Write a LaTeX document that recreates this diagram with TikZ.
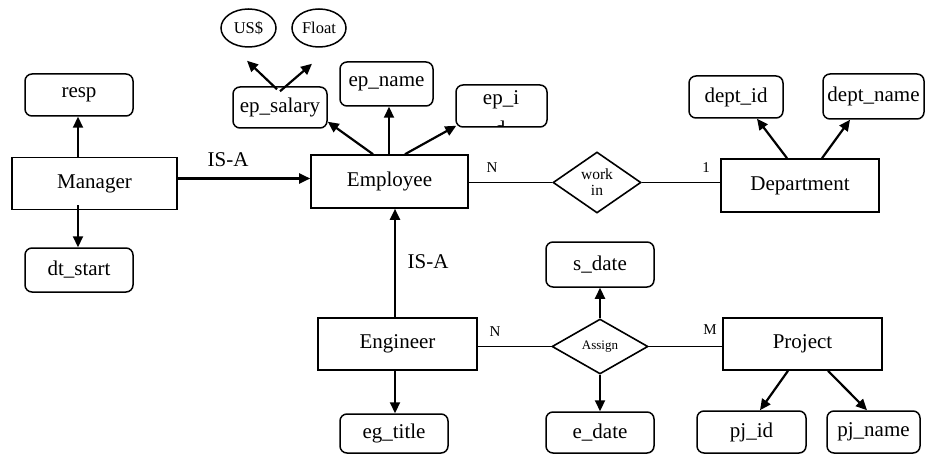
\documentclass[tikz,border=0pt]{standalone}
\usepackage{fontspec}
\setmainfont{Liberation Serif}
\usetikzlibrary{shapes.geometric,arrows.meta}
\tikzset{
  sz/.style 2 args={minimum width=#1pt, minimum height=#2pt},
  ent/.style={draw, line width=1.6pt, rectangle, inner sep=2pt, font=\fontsize{21}{24}\selectfont},
  attr/.style={draw, line width=1.5pt, rounded corners=7pt, inner sep=2pt, font=\fontsize{21}{24}\selectfont},
  val/.style={draw, ellipse, line width=1.5pt, inner sep=0pt, font=\fontsize{16.5}{18}\selectfont},
  rel/.style={draw, diamond, line width=1.6pt, inner sep=0pt},
  arr/.style={line width=2.2pt, -{Triangle[length=11pt,width=10pt]}},
  lnk/.style={line width=1.6pt},
  card/.style={font=\fontsize{15}{17}\selectfont, inner sep=0pt},
  isa/.style={font=\fontsize{21}{24}\selectfont, inner sep=0pt},
}
\begin{document}
\begin{tikzpicture}[x=1pt,y=-1pt]
\useasboundingbox (0,0) rectangle (925,454);
% entities
\node[ent, sz={165}{52}] (mgr) at (94.5,183.5) {Manager};
\node[ent, sz={157}{53}] (emp) at (389.5,181.5) {Employee};
\node[ent, sz={158}{53}] (dept) at (800,185.5) {Department};
\node[ent, sz={159}{52}] (eng) at (397.5,344) {Engineer};
\node[ent, sz={159}{52}] (proj) at (802.5,344) {Project};
% attributes
\node[attr, sz={108}{42}] (resp) at (79,95) {resp};
\node[attr, sz={108}{44}] (dts) at (79,270) {dt\_start};
\node[attr, sz={94}{41}] (sal) at (280,107.5) {ep\_salary};
\node[attr, sz={93}{44}] (ename) at (386.5,84) {ep\_name};
\node[attr, sz={91}{42}] (eid) at (501.5,106) {};
\begin{scope}
  \clip ([yshift=1pt]eid.south west) rectangle (eid.north east);
  \node[isa, anchor=base] (eidA) at (501,105) {ep\_i};
  \node[isa, anchor=base] (eidB) at (500,136) {d};
\end{scope}
\node[attr, sz={94}{42}] (did) at (736,97) {dept\_id};
\node[attr, sz={101}{45}] (dname) at (873.5,96.5) {dept\_name};
\node[attr, sz={108}{39}] (egt) at (394,433.5) {eg\_title};
\node[attr, sz={108}{45}] (sdate) at (600,264.5) {s\_date};
\node[attr, sz={108}{41}] (edate) at (600,432.5) {e\_date};
\node[attr, sz={109}{42}] (pid) at (751.5,432) {pj\_id};
\node[attr, sz={93}{42}] (pname) at (873.5,432) {pj\_name};
% values
\node[val, sz={55}{38}] (usd) at (248.5,28) {US\$};
\node[val, sz={54}{38}] (flt) at (319,28) {Float};
% relationships
\node[rel, sz={88}{61}, align=center, font=\fontsize{15.5}{16}\selectfont] (work) at (597,182.5) {work\\in};
\node[rel, sz={96}{55}, font=\fontsize{13}{15}\selectfont] (asg) at (600,346.5) {Assign};
% labels
\node[isa] (isa1) at (228,160) {IS-A};
\node[isa] (isa2) at (428,262) {IS-A};
\node[card] (c1) at (492,168) {N};
\node[card] (c2) at (706,168) {1};
\node[card] (c3) at (495,332) {N};
\node[card] (c4) at (710,330) {M};
% arrows
\draw[arr] ([xshift=-16.5pt]mgr.north) -- ([xshift=-16.5pt]mgr.north |- resp.south);
\draw[arr] ([xshift=-16.5pt,yshift=5pt]mgr.south) -- ([xshift=-16.5pt]mgr.south |- dts.north);
\draw[arr] ([yshift=5pt]mgr.east) -- ([yshift=5pt]mgr.east -| emp.west);
\draw[arr] ([xshift=-16.5pt]emp.north) -- ([yshift=7pt]sal.south east);
\draw[arr] ([xshift=-0.5pt]emp.north) -- ([xshift=-0.5pt]emp.north |- ename.south);
\draw[arr] ([xshift=15.5pt]emp.north) -- ([xshift=1pt,yshift=2pt]eid.south west);
\draw[arr] ([xshift=-3pt,yshift=-3pt]sal.north) -- ([xshift=-1.5pt,yshift=-13pt]usd.south);
\draw[arr] ([xshift=0pt,yshift=-5pt]sal.north) -- ([xshift=-7pt,yshift=-16pt]flt.south);
\draw[arr] ([xshift=-13pt]dept.north) -- ([xshift=21pt]did.south);
\draw[arr] ([xshift=22pt]dept.north) -- ([xshift=-23.5pt]dname.south);
\draw[arr] ([xshift=-2.5pt]eng.north) -- ([xshift=-2.5pt]eng.north |- emp.south);
\draw[arr] ([xshift=-2.5pt]eng.south) -- ([xshift=-2.5pt]eng.south |- egt.north);
\draw[arr] (asg.north) -- (asg.north |- sdate.south);
\draw[arr] (asg.south) -- (asg.south |- edate.north);
\draw[arr] ([xshift=-14.5pt]proj.south) -- ([xshift=8.5pt]pid.north);
\draw[arr] ([xshift=25.5pt]proj.south) -- ([xshift=-6.5pt]pname.north);
% relationship lines
\draw[lnk] (work.west -| emp.east) -- (work.west);
\draw[lnk] (work.east) -- (work.east -| dept.west);
\draw[lnk] (asg.west -| eng.east) -- (asg.west);
\draw[lnk] (asg.east) -- (asg.east -| proj.west);
\end{tikzpicture}
\end{document}
